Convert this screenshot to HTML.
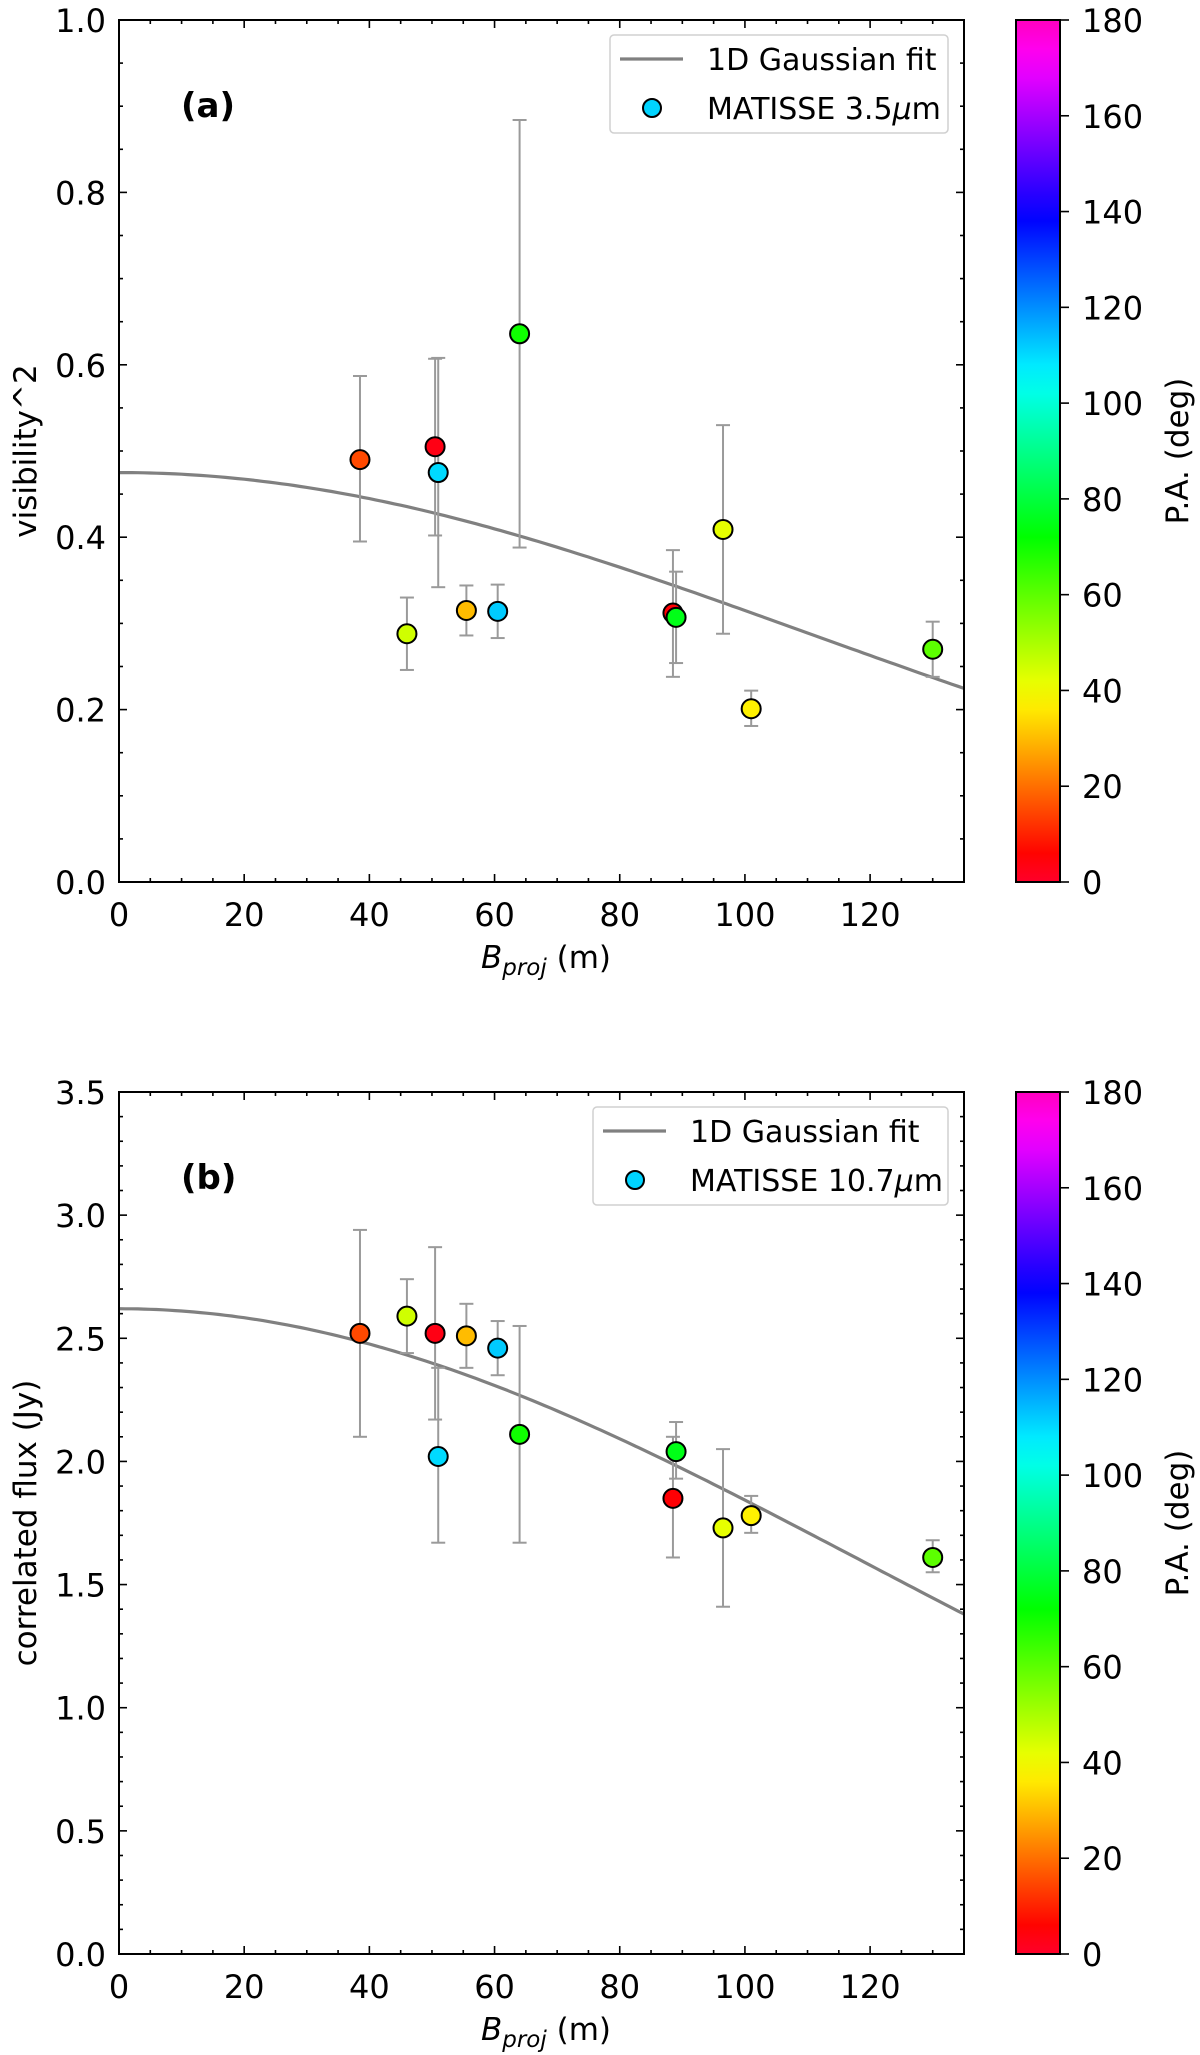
<!DOCTYPE html>
<html><head><meta charset="utf-8"><style>
html,body{margin:0;padding:0;background:#fff;}
svg{display:block;font-family:"DejaVu Sans","Liberation Sans",sans-serif;}
</style></head><body>
<svg id="fig" width="1200" height="2055" viewBox="0 0 1200 2055" xmlns="http://www.w3.org/2000/svg">
<defs>
<linearGradient id="cmap" x1="0" y1="1" x2="0" y2="0"></linearGradient>
</defs>
</svg>
<script>
// ---- data ----
const baselines = [38.5, 46, 50.5, 51, 55.5, 60.5, 64, 88.5, 89, 96.5, 101, 130];
const posAngles = [15, 45, 3, 110, 30, 112, 70, 5, 75, 42, 37, 60];
const vis2 = [0.490, 0.288, 0.505, 0.475, 0.315, 0.314, 0.636, 0.312, 0.307, 0.409, 0.201, 0.270];
const vis2Lo = [0.395, 0.246, 0.402, 0.342, 0.286, 0.283, 0.388, 0.238, 0.254, 0.288, 0.181, 0.238];
const vis2Hi = [0.587, 0.330, 0.607, 0.608, 0.344, 0.345, 0.884, 0.385, 0.360, 0.530, 0.222, 0.302];
const flux = [2.52, 2.59, 2.52, 2.02, 2.51, 2.46, 2.11, 1.85, 2.04, 1.73, 1.78, 1.61];
const fluxLo = [2.10, 2.44, 2.17, 1.67, 2.38, 2.35, 1.67, 1.61, 1.93, 1.41, 1.71, 1.55];
const fluxHi = [2.94, 2.74, 2.87, 2.38, 2.64, 2.57, 2.55, 2.10, 2.16, 2.05, 1.86, 1.68];
const fitVis = [0.475, 156];   // amplitude, width (m)
const fitFlux = [2.62, 168.6];
const xTicks = [0, 20, 40, 60, 80, 100, 120];
const visTicks = ["0.0", "0.2", "0.4", "0.6", "0.8", "1.0"];
const fluxTicks = ["0.0", "0.5", "1.0", "1.5", "2.0", "2.5", "3.0", "3.5"];
const cbTicks = [0, 20, 40, 60, 80, 100, 120, 140, 160, 180];

const NS = "http://www.w3.org/2000/svg";
const svg = document.getElementById('fig');
function mk(tag, attrs, parent, text) {
  const e = document.createElementNS(NS, tag);
  for (const k in attrs) e.setAttribute(k, attrs[k]);
  if (text !== undefined) e.textContent = text;
  (parent || svg).appendChild(e);
  return e;
}
function paColor(pa) { return 'hsl(' + (-10 + pa / 180 * 325).toFixed(1) + ',100%,50%)'; }

const grad = document.getElementById('cmap');
for (let i = 0; i <= 30; i++) {
  mk('stop', {offset: (i / 30).toFixed(4), 'stop-color': paColor(i * 6)}, grad);
}

const L = 119, R = 964, XMAX = 135;
function xs(v) { return L + v / XMAX * (R - L); }

function panel(cfg) {
  const T = cfg.top, B = cfg.top + 862;
  const ys = v => B - v / cfg.ymax * (B - T);
  const g = mk('g', {});
  
  
  for (let v = 0; v <= XMAX; v += 5) {
    const major = v % 20 === 0, len = major ? 8 : 4;
    const t = mk('line', {x1: xs(v), x2: xs(v), y1: B, y2: B - len, stroke: '#000', 'stroke-width': 1.6}, g);
    
    
    mk('line', {x1: xs(v), x2: xs(v), y1: T, y2: T + len, stroke: '#000', 'stroke-width': 1.6}, g);
  }
  xTicks.forEach(v => {
    const tl = mk('text', {x: xs(v), y: B + 44, 'font-size': 32, 'text-anchor': 'middle'}, g, String(v));
    
    
  });
  const nMinor = Math.round(cfg.ymax / cfg.minor);
  for (let i = 0; i <= nMinor; i++) {
    const v = i * cfg.minor, major = i % cfg.perMajor === 0, len = major ? 8 : 4;
    mk('line', {x1: L, x2: L + len, y1: ys(v), y2: ys(v), stroke: '#000', 'stroke-width': 1.6}, g);
    mk('line', {x1: R, x2: R - len, y1: ys(v), y2: ys(v), stroke: '#000', 'stroke-width': 1.6}, g);
  }
  cfg.ticks.forEach(s => {
    const tl = mk('text', {x: 106, y: ys(parseFloat(s)) + 12, 'font-size': 32, 'text-anchor': 'end'}, g, s);
    
    
  });
  let d = '';
  for (let v = 0; v <= XMAX; v += 1) {
    const y = cfg.fit[0] * Math.exp(-Math.pow(v / cfg.fit[1], 2));
    d += (v ? 'L' : 'M') + xs(v).toFixed(1) + ',' + ys(y).toFixed(1);
  }
  const fl = mk('path', {d: d, fill: 'none', stroke: '#808080', 'stroke-width': 3.2}, g);
  
  
  baselines.forEach((b, i) => {
    const x = xs(b);
    const eb = mk('g', {stroke: '#9a9a9a', 'stroke-width': 2}, g);
    
    
    mk('line', {x1: x, x2: x, y1: ys(cfg.lo[i]), y2: ys(cfg.hi[i])}, eb);
    mk('line', {x1: x - 7, x2: x + 7, y1: ys(cfg.lo[i]), y2: ys(cfg.lo[i])}, eb);
    mk('line', {x1: x - 7, x2: x + 7, y1: ys(cfg.hi[i]), y2: ys(cfg.hi[i])}, eb);
  });
  baselines.forEach((b, i) => {
    const c = mk('circle', {cx: xs(b), cy: ys(cfg.val[i]), r: 9.5, fill: paColor(posAngles[i]), stroke: '#000', 'stroke-width': 2}, g);
    
    
  });
  const fr = mk('rect', {x: L, y: T, width: R - L, height: B - T, fill: 'none', stroke: '#000', 'stroke-width': 2}, g);
  
  
  const pl = mk('text', {x: 181, y: T + 97, 'font-size': 34, 'font-weight': 'bold'}, g, cfg.letter);
  
  
  const yl = mk('text', {x: 0, y: 0, 'font-size': 31, 'text-anchor': 'middle', transform: 'translate(36,' + ((T + B) / 2) + ') rotate(-90)'}, g, cfg.ylabel);
  
  
  const xl = mk('text', {x: 546, y: B + 86, 'font-size': 31, 'text-anchor': 'middle'}, g);
  
  
  mk('tspan', {'font-style': 'italic'}, xl, 'B');
  mk('tspan', {'font-style': 'italic', 'font-size': 23, dy: 7}, xl, 'proj');
  mk('tspan', {dy: -7}, xl, ' (m)');
  const lg = mk('g', {}, g);
  
  
  mk('rect', {x: cfg.legX, y: T + 15, width: 948 - cfg.legX, height: 98, rx: 4, fill: '#fff', stroke: '#d0d0d0', 'stroke-width': 1.5}, lg);
  mk('line', {x1: cfg.legX + 10, x2: cfg.legX + 73, y1: T + 39, y2: T + 39, stroke: '#808080', 'stroke-width': 3.2}, lg);
  const t1 = mk('text', {x: cfg.legX + 97, y: T + 50, 'font-size': 30}, lg, '1D Gaussian fit');
  
  
  mk('circle', {cx: cfg.legX + 42, cy: T + 88, r: 9, fill: '#00d4ff', stroke: '#000', 'stroke-width': 2}, lg);
  const t2 = mk('text', {x: cfg.legX + 97, y: T + 99, 'font-size': 30}, lg, cfg.legText);
  
  
  mk('tspan', {'font-style': 'italic'}, t2, 'μ');
  mk('tspan', {}, t2, 'm');
  const cb = mk('g', {}, g);
  
  
  mk('rect', {x: 1016, y: T, width: 44, height: B - T, fill: 'url(#cmap)', stroke: '#000', 'stroke-width': 2}, cb);
  cbTicks.forEach(v => {
    const y = B - v / 180 * (B - T);
    mk('line', {x1: 1060, x2: 1069, y1: y, y2: y, stroke: '#000', 'stroke-width': 1.6}, cb);
    const ct = mk('text', {x: 1082, y: y + 12, 'font-size': 32}, cb, String(v));
    
    
  });
  const cl = mk('text', {x: 0, y: 0, 'font-size': 31, 'text-anchor': 'middle', transform: 'translate(1188,' + ((T + B) / 2) + ') rotate(-90)'}, cb, 'P.A. (deg)');
  
  
}

panel({name: 'panel-a-visibility', top: 20, ymax: 1.0, minor: 0.05, perMajor: 4, ticks: visTicks,
  val: vis2, lo: vis2Lo, hi: vis2Hi, fit: fitVis, letter: '(a)', ylabel: 'visibility^2', legX: 610, legText: 'MATISSE 3.5'});
panel({name: 'panel-b-correlated-flux', top: 1092, ymax: 3.5, minor: 0.1, perMajor: 5, ticks: fluxTicks,
  val: flux, lo: fluxLo, hi: fluxHi, fit: fitFlux, letter: '(b)', ylabel: 'correlated flux (Jy)', legX: 593, legText: 'MATISSE 10.7'});
</script>
</body></html>
